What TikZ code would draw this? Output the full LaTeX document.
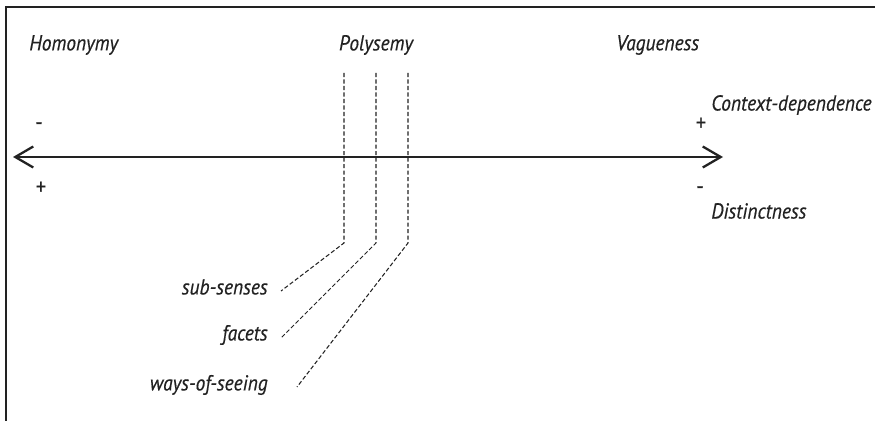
\documentclass[tikz,border=0pt]{standalone}
\usepackage{fontspec}
\setmainfont{PT Sans}[FakeStretch=0.9,FakeBold=0.5]
\usepackage{tikz}
\usepackage{xcolor}
\usetikzlibrary{arrows.meta}
\usetikzlibrary{positioning}
\definecolor{ink}{HTML}{222222}
\tikzset{
term/.style={font=\itshape\fontsize{12.3}{15}\selectfont,text=ink,inner sep=0pt},
sign/.style={font=\fontsize{13}{15}\selectfont,text=ink,inner sep=0pt},
sense/.style={draw=ink,line width=0.6pt,dash pattern=on 2.4pt off 1.3pt}
}

\begin{document}
\begin{tikzpicture}[x=0.02cm,y=-0.02cm]
\useasboundingbox (0,0) rectangle (875,421);
\draw[ink,line width=0.7pt] (6,421) -- (6,7) -- (875,7);
\node[term,anchor=west] (homonymy) at (29,45) {Homonymy};
\node[term] (polysemy) at (376,45) {Polysemy};
\node[term,anchor=west] (vagueness) at (616,45) {Vagueness};
\coordinate (left) at (13,157);
\coordinate (right) at (723,157);
\draw[ink,line width=1.3pt,{Straight Barb[length=3.6mm,width=4.2mm]}-{Straight Barb[length=3.6mm,width=4.2mm]}] (left) -- (right);
\node[sign] (lminus) at (39,126) {-};
\node[sign] (lplus) at (41,188) {+};
\node[sign] (rplus) at (701,124) {+};
\node[sign] (rminus) at (700,190) {-};
\node[term,anchor=west] (context) at (711,105) {Context-dependence};
\node[term,anchor=west] (distinct) at (711,211) {Distinctness};
\node[term,anchor=east] (subsenses) at (268,287) {sub-senses};
\node[term,anchor=east] (facets) at (268,335) {facets};
\node[term,anchor=east] (ways) at (268,385) {ways-of-seeing};
\draw[sense] (344,73) coordinate (t1) -- (344,243) coordinate (b1) -- (281,291);
\draw[sense] (376,73) coordinate (t2) -- (376,243) coordinate (b2) -- (281,338);
\draw[sense] (408,73) coordinate (t3) -- (408,243) coordinate (b3) -- (297,387);
\end{tikzpicture}
\end{document}
